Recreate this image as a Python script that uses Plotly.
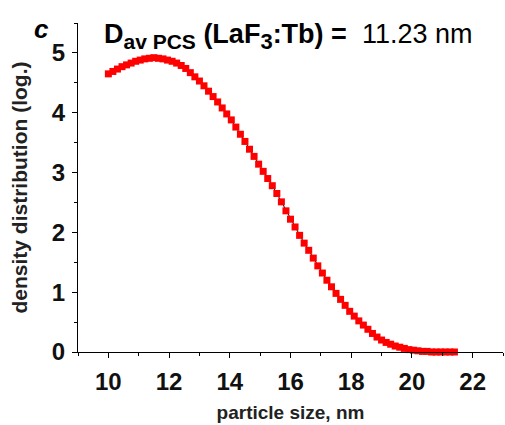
import plotly.graph_objects as go

particle_size = [10.00, 10.15, 10.30, 10.45, 10.60, 10.75, 10.90, 11.05, 11.20, 11.35,
                 11.50, 11.65, 11.80, 11.95, 12.10, 12.25, 12.40, 12.55, 12.70, 12.85,
                 13.00, 13.15, 13.30, 13.45, 13.60, 13.75, 13.90, 14.05, 14.20, 14.35,
                 14.50, 14.65, 14.80, 14.95, 15.10, 15.25, 15.40, 15.55, 15.70, 15.85,
                 16.00, 16.15, 16.30, 16.45, 16.60, 16.75, 16.90, 17.05, 17.20, 17.35,
                 17.50, 17.65, 17.80, 17.95, 18.10, 18.25, 18.40, 18.55, 18.70, 18.85,
                 19.00, 19.15, 19.30, 19.45, 19.60, 19.75, 19.90, 20.05, 20.20, 20.35,
                 20.50, 20.65, 20.80, 20.95, 21.10, 21.25, 21.40]
density = [4.65, 4.69, 4.73, 4.77, 4.80, 4.83, 4.86, 4.88, 4.90, 4.91,
           4.92, 4.91, 4.90, 4.88, 4.86, 4.83, 4.79, 4.74, 4.67, 4.60,
           4.53, 4.45, 4.36, 4.27, 4.18, 4.08, 3.98, 3.88, 3.76, 3.64,
           3.52, 3.39, 3.27, 3.14, 3.02, 2.90, 2.78, 2.65, 2.51, 2.36,
           2.22, 2.09, 1.95, 1.82, 1.70, 1.57, 1.44, 1.32, 1.20, 1.09,
           0.98, 0.88, 0.78, 0.68, 0.60, 0.52, 0.45, 0.38, 0.31, 0.25,
           0.20, 0.16, 0.13, 0.10, 0.08, 0.06, 0.04, 0.03, 0.02, 0.01,
           0.01, 0.00, 0.00, 0.00, 0.00, 0.00, 0.00]

x_ticks = [10, 12, 14, 16, 18, 20, 22]
y_ticks = [0, 1, 2, 3, 4, 5]

FONT = "Arial, Liberation Sans, sans-serif"

fig = go.Figure()
fig.add_trace(go.Scatter(
    x=particle_size, y=density, mode="lines+markers",
    line=dict(color="black", width=1),
    marker=dict(symbol="square", size=7, color="#ff0000", line=dict(width=0)),
    showlegend=False, cliponaxis=False,
))

axis_common = dict(
    showgrid=False, zeroline=False, showline=True, linecolor="black", linewidth=1,
    ticks="outside", ticklen=5, tickwidth=1, tickcolor="black",
    tickfont=dict(family=FONT, size=24, color="#111", weight="bold"),
)

fig.update_xaxes(
    range=[9, 23], tickvals=x_ticks, ticktext=[str(v) for v in x_ticks],
    minor=dict(ticks="outside", ticklen=3, tickwidth=1, tickcolor="black", dtick=1, tick0=9),
    title=dict(text="<b>particle size, nm</b>", font=dict(family=FONT, size=19, color="#222"), standoff=11),
    ticklabelstandoff=3,
    **axis_common,
)
fig.update_yaxes(
    range=[0, 5.5], tickvals=y_ticks, ticktext=[str(v) for v in y_ticks],
    minor=dict(ticks="outside", ticklen=3, tickwidth=1, tickcolor="black", dtick=0.5, tick0=0),
    title=dict(text="<b>density distribution (log.)</b>", font=dict(family=FONT, size=21, color="#222"), standoff=18),
    ticklabelstandoff=2,
    **axis_common,
)

fig.add_annotation(
    xref="paper", yref="paper", x=0.057, y=0.96, xanchor="left", yanchor="middle",
    text=("<b>D<sub><span style='font-size:21px'>av PCS</span></sub> "
          "(LaF<sub><span style='font-size:22px'>3</span></sub>:Tb) =</b>&nbsp; 11.23 nm"),
    showarrow=False, font=dict(family=FONT, size=27, color="black"),
)
fig.add_annotation(
    xref="paper", yref="paper", x=-0.085, y=0.982, xanchor="center", yanchor="middle",
    text="<b><i>c</i></b>", showarrow=False, font=dict(family=FONT, size=26, color="black"),
)

fig.update_layout(
    width=505, height=425,
    margin=dict(l=78, r=2, t=23, b=73),
    paper_bgcolor="white", plot_bgcolor="white",
)

fig.write_html("out.html")
